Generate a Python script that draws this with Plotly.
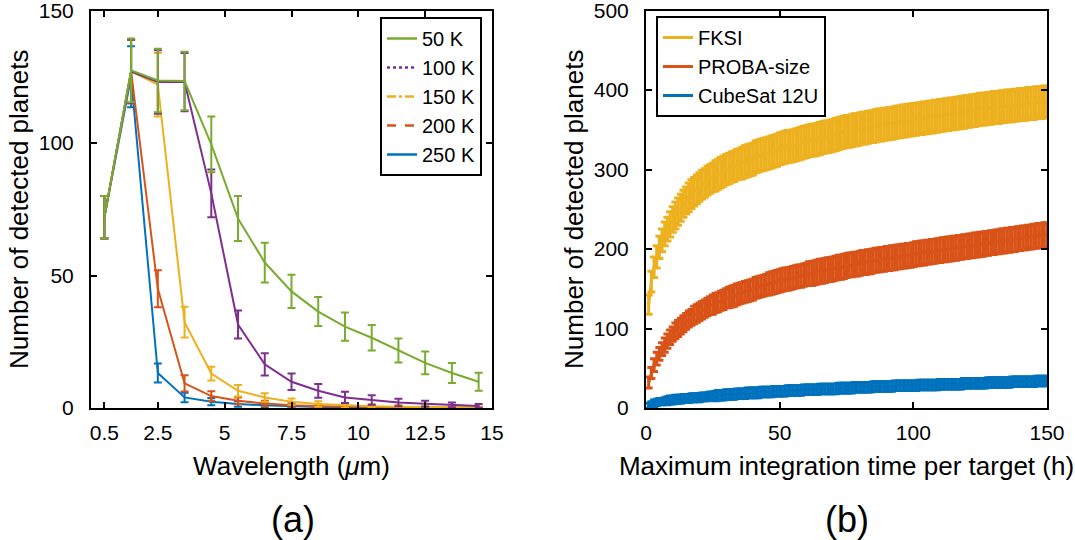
import plotly.graph_objects as go

# ---- panel (a): detections vs wavelength, per temperature
wavelength = [0.5, 1.5, 2.5, 3.5, 4.5, 5.5, 6.5, 7.5, 8.5, 9.5, 10.5, 11.5, 12.5, 13.5, 14.5]

n_50k = [72, 127.4, 123.6, 123.4, 99.5, 71.5, 54.9, 44.0, 36.4, 30.7, 26.5, 21.7, 17.0, 13.2, 9.9]
e_50k = [8, 12, 12, 11, 10.5, 8.5, 7.5, 6.3, 5.5, 5.3, 4.8, 4.5, 4.3, 3.8, 3.4]
n_100k = [72, 127, 123, 123, 81, 31.5, 16.5, 9.9, 6.5, 4.0, 3.0, 2.1, 1.6, 1.2, 0.8]
e_100k = [8, 12, 12, 11, 9, 5.3, 4.2, 3.1, 2.6, 2.1, 1.8, 1.4, 1.1, 0.9, 0.7]
n_150k = [72, 127, 122, 32.4, 13.0, 6.5, 4.0, 2.4, 1.5, 1.0, 0.7, 0.5, 0.4, 0.3, 0.2]
e_150k = [8, 12, 12, 5.8, 2.6, 2.2, 1.6, 1.2, 1.0, 0.8, 0.7, 0.6, 0.5, 0.4, 0.4]
n_200k = [72, 127, 45, 9.3, 4.5, 2.7, 1.7, 1.0, 0.7, 0.5, 0.4, 0.3, 0.2, 0.2, 0.1]
e_200k = [8, 12, 7, 3.1, 1.8, 1.3, 1.0, 0.8, 0.6, 0.5, 0.4, 0.3, 0.3, 0.2, 0.2]
n_250k = [72, 125, 13.2, 4.0, 2.4, 1.5, 1.0, 0.6, 0.4, 0.3, 0.2, 0.2, 0.1, 0.1, 0.1]
e_250k = [8, 11.5, 3.6, 1.8, 1.4, 1.0, 0.8, 0.6, 0.4, 0.3, 0.3, 0.2, 0.2, 0.1, 0.1]

wl_ticks = [0.5, 2.5, 5, 7.5, 10, 12.5, 15]

# ---- panel (b): detections vs max integration time (1..150 h)
hours = list(range(1, 151))

fksi = [130, 159, 177, 190, 202, 211, 219, 225, 231, 237,
        242, 247, 252, 257, 261, 265, 269, 272, 275, 278,
        281, 283, 286, 288, 290, 292, 294, 296, 298, 300,
        301, 303, 304, 306, 307, 308, 310, 311, 312, 313,
        316, 317, 318, 319, 320, 321, 322, 323, 324, 326,
        327, 328, 329, 329, 330, 331, 332, 333, 334, 335,
        336, 337, 337, 338, 339, 340, 341, 341, 342, 343,
        344, 345, 346, 347, 348, 348, 349, 350, 350, 351,
        352, 352, 353, 354, 354, 355, 356, 356, 357, 357,
        358, 358, 359, 360, 360, 361, 361, 362, 362, 363,
        363, 364, 364, 365, 365, 366, 366, 367, 367, 368,
        368, 369, 369, 370, 370, 371, 371, 372, 372, 373,
        373, 374, 374, 375, 376, 376, 376, 377, 377, 378,
        378, 378, 379, 379, 380, 380, 380, 381, 381, 382,
        382, 382, 383, 383, 383, 384, 384, 384, 385, 385]
fksi_err = [12, 13, 13, 14, 14, 14, 15, 15, 16, 16,
            17, 17, 17, 17, 17, 18, 18, 18, 18, 18,
            18, 18, 18, 18, 18, 19, 19, 19, 19, 19,
            19, 19, 19, 19, 19, 20, 20, 20, 20, 20,
            20, 20, 20, 20, 20, 20, 20, 20, 20, 20,
            20, 20, 20, 20, 20, 20, 20, 20, 20, 20,
            20, 20, 20, 20, 20, 20, 20, 20, 20, 20,
            20, 20, 20, 20, 20, 20, 20, 20, 20, 20,
            20, 20, 20, 20, 20, 20, 20, 20, 20, 20,
            20, 20, 20, 20, 20, 20, 20, 20, 20, 20,
            20, 20, 20, 20, 20, 20, 20, 20, 20, 20,
            20, 20, 20, 20, 20, 20, 20, 20, 20, 20,
            20, 20, 20, 20, 20, 20, 20, 20, 20, 20,
            20, 20, 20, 20, 20, 20, 20, 20, 20, 20,
            20, 20, 20, 20, 20, 20, 20, 20, 20, 20]

proba = [32, 44, 54, 62, 68, 74, 79, 84, 89, 93,
         97, 100, 103, 106, 109, 112, 114, 117, 119, 121,
         123, 125, 127, 129, 130, 132, 133, 135, 136, 138,
         139, 140, 141, 143, 144, 145, 146, 147, 148, 149,
         151, 152, 153, 154, 155, 156, 157, 158, 159, 160,
         161, 162, 162, 163, 164, 165, 166, 166, 167, 168,
         169, 169, 170, 171, 172, 172, 173, 174, 174, 175,
         176, 177, 177, 178, 179, 180, 180, 181, 181, 182,
         183, 183, 184, 184, 185, 186, 186, 187, 187, 188,
         188, 189, 189, 190, 190, 191, 191, 192, 192, 193,
         194, 194, 195, 195, 196, 196, 197, 197, 198, 198,
         199, 199, 200, 200, 201, 201, 202, 202, 203, 203,
         204, 204, 205, 205, 206, 206, 207, 207, 208, 208,
         209, 209, 210, 210, 211, 211, 212, 212, 213, 213,
         214, 214, 215, 215, 216, 216, 217, 217, 218, 218]
proba_err = [7, 7, 8, 8, 8, 8, 9, 9, 9, 9,
             10, 10, 10, 10, 10, 10, 10, 11, 11, 11,
             11, 11, 11, 11, 12, 12, 12, 12, 12, 12,
             13, 13, 13, 13, 13, 13, 13, 13, 13, 13,
             13, 13, 13, 13, 13, 14, 14, 14, 14, 14,
             14, 14, 14, 14, 14, 14, 14, 14, 14, 14,
             15, 15, 15, 15, 15, 15, 15, 15, 15, 15,
             15, 15, 15, 15, 15, 15, 15, 15, 15, 15,
             15, 15, 15, 15, 15, 15, 15, 15, 15, 15,
             15, 15, 15, 15, 15, 15, 15, 15, 15, 15,
             15, 15, 15, 15, 15, 15, 15, 15, 15, 15,
             15, 15, 15, 15, 15, 15, 15, 15, 15, 15,
             15, 15, 15, 15, 15, 15, 15, 15, 15, 15,
             15, 15, 15, 15, 15, 15, 15, 15, 15, 15,
             15, 15, 15, 15, 15, 15, 15, 15, 15, 15]

cubesat = [3, 5, 6, 7, 8, 8, 9, 9, 10, 10,
           11, 11, 11, 12, 12, 12, 13, 13, 13, 13,
           14, 14, 14, 15, 15, 15, 16, 16, 16, 17,
           17, 17, 17, 18, 18, 18, 18, 19, 19, 19,
           19, 19, 20, 20, 20, 20, 20, 21, 21, 21,
           21, 21, 22, 22, 22, 22, 22, 22, 23, 23,
           23, 23, 23, 23, 24, 24, 24, 24, 24, 24,
           24, 25, 25, 25, 25, 25, 25, 26, 26, 26,
           26, 26, 26, 26, 27, 27, 27, 27, 27, 27,
           27, 27, 28, 28, 28, 28, 28, 28, 28, 28,
           28, 29, 29, 29, 29, 29, 29, 29, 29, 30,
           30, 30, 30, 30, 30, 30, 30, 30, 31, 31,
           31, 31, 31, 31, 31, 31, 31, 32, 32, 32,
           32, 32, 32, 32, 32, 32, 33, 33, 33, 33,
           33, 33, 33, 33, 33, 34, 34, 34, 34, 34]
cubesat_err = [3, 3, 4, 4, 4, 4, 4, 5, 5, 5,
               5, 5, 5, 5, 5, 5, 5, 5, 5, 5,
               5, 5, 5, 5, 5, 6, 6, 6, 6, 6,
               6, 6, 6, 6, 6, 6, 6, 6, 6, 6,
               6, 6, 6, 6, 6, 6, 6, 6, 6, 6,
               6, 6, 6, 6, 6, 6, 6, 6, 6, 6,
               6, 6, 6, 6, 6, 6, 6, 6, 6, 6,
               6, 6, 6, 6, 6, 6, 6, 6, 6, 6,
               6, 6, 6, 6, 6, 6, 6, 6, 6, 6,
               6, 6, 6, 6, 6, 6, 6, 6, 6, 6,
               6, 6, 6, 6, 6, 6, 6, 6, 6, 6,
               6, 6, 6, 6, 6, 6, 6, 6, 6, 6,
               6, 6, 6, 6, 6, 6, 6, 6, 6, 6,
               6, 6, 6, 6, 6, 6, 6, 6, 6, 6,
               6, 6, 6, 6, 6, 6, 6, 6, 6, 6]

GREEN = "#77AC30"
PURPLE = "#7E2F8E"
YELLOW = "#EDB120"
RED = "#D95319"
BLUE = "#0072BD"
FONT = "Liberation Sans, Arial, sans-serif"

fig = go.Figure()

# panel (a) -- drawn 250 K first so 50 K ends up on top
left_series = [
    ("250 K", n_250k, e_250k, BLUE, "solid"),
    ("200 K", n_200k, e_200k, RED, "dash"),
    ("150 K", n_150k, e_150k, YELLOW, "dashdot"),
    ("100 K", n_100k, e_100k, PURPLE, "dot"),
    ("50 K", n_50k, e_50k, GREEN, "solid"),
]
for name, vals, errs, col, dash in left_series:
    fig.add_trace(go.Scatter(
        x=wavelength, y=vals, mode="lines", name=name, showlegend=False,
        line=dict(color=col, width=2),
        error_y=dict(type="data", array=errs, color=col, thickness=2, width=4),
        xaxis="x", yaxis="y"))

# legend-only entries, keep the line styles of the original legend
for name, vals, errs, col, dash in reversed(left_series):
    fig.add_trace(go.Scatter(
        x=[None], y=[None], mode="lines", name=name, legend="legend",
        line=dict(color=col, width=2.5, dash=dash), xaxis="x", yaxis="y"))

# panel (b): one error bar per hour, dense enough to read as a band
for name, vals, errs, col in [("FKSI", fksi, fksi_err, YELLOW),
                              ("PROBA-size", proba, proba_err, RED),
                              ("CubeSat 12U", cubesat, cubesat_err, BLUE)]:
    fig.add_trace(go.Scatter(
        x=hours, y=vals, mode="lines", name=name, legend="legend2",
        line=dict(color=col, width=3),
        error_y=dict(type="data", array=errs, color=col, thickness=3, width=4),
        xaxis="x2", yaxis="y2"))

axis_style = dict(
    showline=True, linecolor="black", linewidth=2, mirror="ticks",
    ticks="inside", ticklen=6, tickwidth=2, tickcolor="black",
    showgrid=False, zeroline=False, automargin=False,
    ticklabeloverflow="allow",
    tickfont=dict(family=FONT, size=21, color="black"),
    title_font=dict(family=FONT, size=26, color="black"),
)

W, H = 1075, 540
TOP, BOTTOM = 10.5, 408
fig.update_layout(
    width=W, height=H,
    margin=dict(l=0, r=0, t=0, b=0),
    paper_bgcolor="white", plot_bgcolor="white",
    font=dict(family=FONT, size=20, color="black"),
    xaxis=dict(domain=[91 / W, 492 / W], range=[0, 15], tickvals=wl_ticks,
               title=dict(text="Wavelength (<i>μ</i>m)", standoff=14),
               ticklabelstandoff=5, **axis_style),
    yaxis=dict(domain=[1 - BOTTOM / H, 1 - TOP / H], range=[0, 150],
               tickvals=[0, 50, 100, 150],
               title=dict(text="Number of detected planets", standoff=3),
               ticklabelstandoff=11, **axis_style),
    xaxis2=dict(domain=[646 / W, 1047 / W], range=[0, 150],
                tickvals=[0, 50, 100, 150],
                title=dict(text="Maximum integration time per target (h)", standoff=14),
                ticklabelstandoff=5, anchor="y2", **axis_style),
    yaxis2=dict(domain=[1 - BOTTOM / H, 1 - TOP / H], range=[0, 500],
                tickvals=[0, 100, 200, 300, 400, 500],
                title=dict(text="Number of detected planets", standoff=3),
                ticklabelstandoff=11, anchor="x2", **axis_style),
    legend=dict(x=482 / W, y=1 - 17 / H, xanchor="right", yanchor="top",
                bgcolor="white", bordercolor="black", borderwidth=2,
                font=dict(family=FONT, size=20), itemwidth=30,
                tracegroupgap=0),
    legend2=dict(x=656 / W, y=1 - 16 / H, xanchor="left", yanchor="top",
                 bgcolor="white", bordercolor="black", borderwidth=2,
                 font=dict(family=FONT, size=20), itemwidth=30,
                 tracegroupgap=0),
    annotations=[
        dict(text="(a)", x=293 / W, y=1 - 519 / H, xref="paper", yref="paper",
             xanchor="center", yanchor="middle", showarrow=False,
             font=dict(family=FONT, size=36, color="black")),
        dict(text="(b)", x=847 / W, y=1 - 519 / H, xref="paper", yref="paper",
             xanchor="center", yanchor="middle", showarrow=False,
             font=dict(family=FONT, size=36, color="black")),
    ],
)

# page body has a default 8px margin; drop it so the figure sits at 0,0
fig.write_html("out.html", config={"displayModeBar": False},
               post_script="document.body.style.margin='0';")
